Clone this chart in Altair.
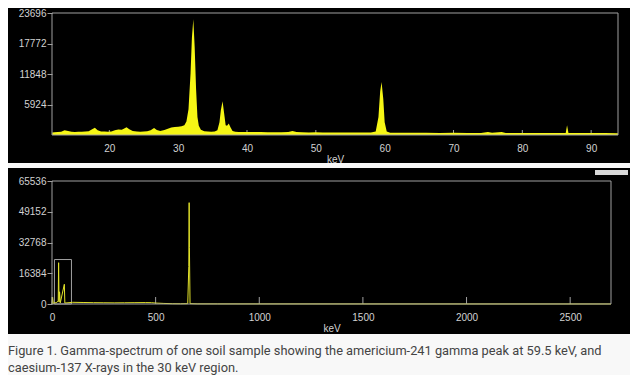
import altair as alt
import pandas as pd

# ---------------- data ----------------
# Upper panel: zoomed spectrum 11.7 - 93.9 keV
zoom_kev = [11.7, 12.0, 12.5, 13.0, 13.5, 14.0, 14.5, 15.0, 15.5, 16.0, 16.5, 17.0, 17.5, 17.9,
            18.3, 18.8, 19.3, 19.8, 20.3, 20.8, 21.3, 21.8, 22.1, 22.5, 22.9, 23.4, 24.0, 24.5,
            25.0, 25.5, 26.0, 26.5, 26.9, 27.4, 28.0, 28.5, 29.0, 29.5, 30.0, 30.5, 30.9, 31.2,
            31.5, 31.8, 32.0, 32.2, 32.4, 32.6, 32.8, 33.0, 33.3, 33.8, 34.3, 34.8, 35.3, 35.7,
            36.0, 36.2, 36.45, 36.7, 36.9, 37.1, 37.35, 37.6, 37.9, 38.3, 38.8, 39.3, 40.0, 41.0,
            42.0, 43.0, 44.0, 45.0, 46.0, 46.6, 47.2, 48.0, 49.0, 50.0, 51.0, 52.0, 53.0, 54.0,
            55.0, 56.0, 57.0, 58.0, 58.7, 59.1, 59.35, 59.55, 59.8, 60.0, 60.3, 60.8, 62.0, 64.0,
            66.0, 68.0, 70.0, 72.0, 74.0, 75.0, 75.6, 77.0, 77.6, 80.0, 82.0, 84.0, 86.3, 86.5,
            86.7, 88.0, 90.0, 92.0, 93.9]
zoom_counts = [500, 550, 600, 650, 900, 800, 650, 600, 620, 650, 700, 750, 1100, 1400,
               900, 700, 680, 650, 700, 900, 1050, 1000, 1200, 1500, 1100, 800, 700, 650,
               700, 750, 900, 1350, 950, 800, 950, 1200, 1450, 1550, 1600, 1700, 1900, 2600,
               5000, 12000, 19000, 22500, 17000, 9000, 3500, 1800, 1000, 750, 700, 650, 700, 900,
               2500, 4800, 6550, 4000, 1900, 1800, 2250, 1500, 800, 650, 600, 600, 580, 560,
               600, 550, 520, 540, 560, 800, 560, 520, 500, 520, 500, 490, 480, 500,
               470, 480, 470, 500, 700, 3500, 8500, 10300, 7000, 2500, 700, 450, 430, 420,
               440, 400, 420, 400, 410, 600, 420, 580, 400, 390, 380, 390, 380, 1900,
               380, 370, 380, 370, 360]

# Lower panel: full spectrum 0 - 2697 keV
full_kev = [0, 3, 6, 10, 20, 30, 32, 34, 36.5, 40, 59.5, 62, 100, 150, 200, 250, 300, 350,
            400, 450, 480, 500, 540, 580, 620, 655, 660, 661.7, 663, 666, 700, 800, 1000,
            1500, 2000, 2697]
full_counts = [0, 3600, 300, 500, 700, 1500, 22000, 1000, 6500, 600, 10500, 500, 900, 800,
               700, 650, 600, 650, 700, 750, 700, 500, 300, 150, 120, 200, 20000, 54000,
               30000, 200, 80, 60, 50, 40, 30, 20]

zoom_x_ticks = [20, 30, 40, 50, 60, 70, 80, 90]
zoom_y_ticks = [5924, 11848, 17772, 23696]
full_x_ticks = [0, 500, 1000, 1500, 2000, 2500]
full_y_ticks = [0, 16384, 32768, 49152, 65536]
zoom_x_domain = [11.67, 93.9]
zoom_y_domain = [0, 23696]
full_x_domain = [0, 2697]
full_y_domain = [0, 65536]
box_kev = [11.7, 93.9]
box_counts = [0, 23696]

caption = ["Figure 1. Gamma-spectrum of one soil sample showing the americium-241 gamma peak at 59.5 keV, and",
           "caesium-137 X-rays in the 30 keV region."]

# ---------------- styling ----------------
YELLOW = "#f6f615"
LINE_YELLOW = "#e4e42a"
GREY = "#a0a0a0"
LABEL = "#d2d2d2"
FONT = "Liberation Sans"

one = pd.DataFrame({"a": [0]})


def panel(kev, counts, xdom, ydom, xt, yt, w, h, top_ext, bot_ext, tick_len, kind):
    xs = alt.Scale(domain=xdom, nice=False, zero=False)
    ys = alt.Scale(domain=ydom, nice=False)
    xaxis = alt.Axis(values=xt, ticks=False, domain=False, grid=False, labelPadding=8,
                     labelColor=LABEL, labelFont=FONT, labelFontSize=10, labelFlush=False,
                     format="d", title="keV", titleColor=LABEL, titleFont=FONT, titleFontSize=10,
                     titleFontWeight="normal", titlePadding=1, zindex=2)
    yaxis = alt.Axis(values=yt, tickSize=5, tickColor=GREY, domain=False, grid=False,
                     labelPadding=1, labelColor=LABEL, labelFont=FONT, labelFontSize=10,
                     format="d", title=None, zindex=2)
    bg = alt.Chart(one).mark_rect(color="black").encode(
        x=alt.value(-44), x2=alt.value(578), y=alt.value(top_ext), y2=alt.value(h + bot_ext))
    tdf = pd.DataFrame({"t": xt})
    ticks = alt.Chart(tdf).mark_rule(color=GREY, strokeWidth=1).encode(
        x=alt.X("t:Q", scale=xs, axis=xaxis), y=alt.value(h), y2=alt.value(h - tick_len))
    df = pd.DataFrame({"keV": kev, "counts": counts})
    if kind == "area":
        spec = alt.Chart(df).mark_area(color=YELLOW, interpolate="linear", opacity=1).encode(
            x=alt.X("keV:Q", scale=xs, axis=xaxis),
            y=alt.Y("counts:Q", scale=ys, axis=yaxis))
    else:
        spec = alt.Chart(df).mark_line(color=LINE_YELLOW, strokeWidth=1, interpolate="linear").encode(
            x=alt.X("keV:Q", scale=xs, axis=xaxis),
            y=alt.Y("counts:Q", scale=ys, axis=yaxis))
    frame = alt.Chart(one).mark_rect(fill=None, stroke=GREY, strokeWidth=1).encode(
        x=alt.value(0), x2=alt.value(w), y=alt.value(0), y2=alt.value(h))
    layers = [bg, ticks]
    if kind == "line":
        bdf = pd.DataFrame({"x": [box_kev[0]], "x2": [box_kev[1]],
                            "y": [box_counts[0]], "y2": [box_counts[1]]})
        box = alt.Chart(bdf).mark_rect(fill=None, stroke=GREY, strokeWidth=1).encode(
            x=alt.X("x:Q", scale=xs, axis=xaxis), x2="x2:Q",
            y=alt.Y("y:Q", scale=ys, axis=yaxis), y2="y2:Q")
        widget = alt.Chart(one).mark_rect(color="#d9d9d9").encode(
            x=alt.value(543), x2=alt.value(576), y=alt.value(-11), y2=alt.value(-6))
        layers += [box, widget]
    layers += [spec, frame]
    return alt.layer(*layers).properties(width=w, height=h)


top = panel(zoom_kev, zoom_counts, zoom_x_domain, zoom_y_domain, zoom_x_ticks, zoom_y_ticks,
            566, 122, -5, 28, 5, "area")
bottom = panel(full_kev, full_counts, full_x_domain, full_y_domain, full_x_ticks, full_y_ticks,
               559, 123, -13, 30, 7, "line")

chart = alt.vconcat(top, bottom, spacing=4).properties(
    padding=0,
    background="#f8f8f8",
    title=alt.TitleParams(text=caption, orient="bottom", anchor="start", frame="bounds",
                          font="Roboto", fontSize=12.8, fontWeight="normal", color="#444444",
                          lineHeight=17, offset=11),
).configure_view(strokeWidth=0).resolve_scale(x="independent", y="independent")

chart.save("out.html", embed_options={"renderer": "svg", "actions": False})
